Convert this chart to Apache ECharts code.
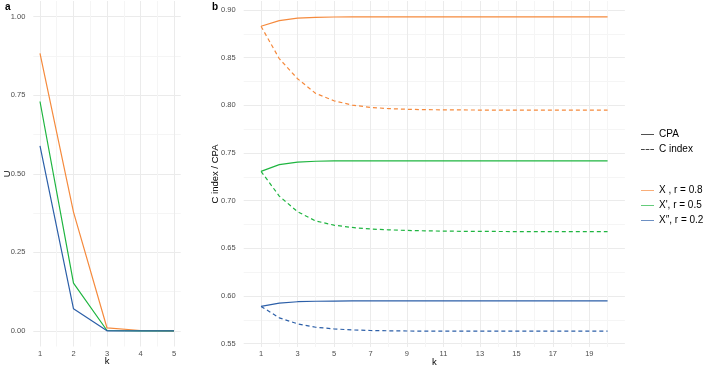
<!DOCTYPE html>
<html>
<head>
<meta charset="utf-8">
<script src="https://cdn.jsdelivr.net/npm/echarts@6/dist/echarts.min.js"></script>
<style>
  html, body { margin: 0; padding: 0; background: #fff; }
  #chart { width: 706px; height: 368px; }
</style>
</head>
<body>
<div id="chart"></div>
<script>
// panel a: U against k
const kA = [1, 2, 3, 4, 5];
const uX0 = [0.883, 0.378, 0.009, 0.001, 0.000];
const uX1 = [0.730, 0.152, 0.001, 0.000, 0.000];
const uX2 = [0.589, 0.070, 0.000, 0.000, 0.000];

// panel b: CPA (solid) and C index (dashed) against k
const kB = [1, 2, 3, 4, 5, 6, 7, 8, 9, 10, 11, 12, 13, 14, 15, 16, 17, 18, 19, 20];
const cpaX0 = [0.883, 0.8889, 0.8915, 0.8924, 0.8927, 0.8928, 0.8928, 0.8928, 0.8928, 0.8928,
               0.8928, 0.8928, 0.8928, 0.8928, 0.8928, 0.8928, 0.8928, 0.8928, 0.8928, 0.8928];
const cIdxX0 = [0.883, 0.849, 0.828, 0.8125, 0.8048, 0.8003, 0.7979, 0.7966, 0.7959, 0.7955,
                0.7953, 0.7952, 0.7951, 0.7951, 0.795, 0.795, 0.795, 0.795, 0.795, 0.795];
const cpaX1 = [0.7308, 0.7378, 0.7405, 0.7414, 0.7417, 0.7418, 0.7418, 0.7418, 0.7418, 0.7418,
               0.7418, 0.7418, 0.7418, 0.7418, 0.7418, 0.7418, 0.7418, 0.7418, 0.7418, 0.7418];
const cIdxX1 = [0.7308, 0.7048, 0.6885, 0.6787, 0.6743, 0.6719, 0.6703, 0.6694, 0.6688, 0.6684,
                0.6681, 0.6679, 0.6678, 0.6677, 0.6676, 0.6676, 0.6675, 0.6675, 0.6675, 0.6675];
const cpaX2 = [0.5891, 0.5926, 0.594, 0.5945, 0.5947, 0.5948, 0.5948, 0.5948, 0.5948, 0.5948,
               0.5948, 0.5948, 0.5948, 0.5948, 0.5948, 0.5948, 0.5948, 0.5948, 0.5948, 0.5948];
const cIdxX2 = [0.5891, 0.5771, 0.5708, 0.5672, 0.5655, 0.5644, 0.5638, 0.5635, 0.5633, 0.5632,
                0.5632, 0.5631, 0.5631, 0.5631, 0.5631, 0.5631, 0.5631, 0.5631, 0.5631, 0.5631];

const groupNames = ['X , r = 0.8', 'X\', r = 0.5', 'X\u2033, r = 0.2'];
const colors = ['#f58a3d', '#1fb540', '#2c5fa8'];

// tick / grid values
const aXLabels = [1, 2, 3, 4, 5];
const aXGrid = [1, 1.5, 2, 2.5, 3, 3.5, 4, 4.5, 5];
const aYLabels = [0, 0.25, 0.5, 0.75, 1];
const aYGrid = [0, 0.125, 0.25, 0.375, 0.5, 0.625, 0.75, 0.875, 1];
const bXLabels = [1, 3, 5, 7, 9, 11, 13, 15, 17, 19];
const bXGrid = kB;
const bYLabels = [0.55, 0.6, 0.65, 0.7, 0.75, 0.8, 0.85, 0.9];
const bYGrid = [0.55, 0.575, 0.6, 0.625, 0.65, 0.675, 0.7, 0.725, 0.75, 0.775, 0.8, 0.825, 0.85, 0.875, 0.9];

const FONT = '"Liberation Sans", Arial, sans-serif';
const gridColors = ['#ebebeb', '#f5f5f5'];
const SOLID_ICON = 'path://M0,0H14V1H0Z';
const DASH_ICON = 'path://M0,0H4V1H0Z M5,0H9V1H5Z M10,0H14V1H10Z';

function pairs(xs, ys) { return xs.map((x, i) => [x, ys[i]]); }

function valueAxis(min, max, labels, grid, fmt, extra) {
  return Object.assign({
    type: 'value', min: min, max: max,
    axisLine: { show: false },
    axisTick: { show: false, customValues: grid },
    axisLabel: { customValues: labels, color: '#4d4d4d', fontSize: 7.5, fontFamily: FONT, formatter: fmt },
    splitLine: { show: true, lineStyle: { color: gridColors, width: 1 } },
    nameMoveOverlap: false,
    nameTextStyle: { color: '#000', fontSize: 9.5, fontFamily: FONT }
  }, extra);
}

const chart = echarts.init(document.getElementById('chart'), null, { renderer: 'canvas' });

const series = [];
[uX0, uX1, uX2].forEach((d, i) => {
  series.push({ name: groupNames[i], type: 'line', xAxisIndex: 0, yAxisIndex: 0, data: pairs(kA, d),
    symbol: 'none', lineStyle: { color: colors[i], width: 1.2 }, itemStyle: { color: colors[i] }, silent: true });
});
[[cpaX0, cIdxX0], [cpaX1, cIdxX1], [cpaX2, cIdxX2]].forEach((p, i) => {
  series.push({ name: groupNames[i], type: 'line', xAxisIndex: 1, yAxisIndex: 1, data: pairs(kB, p[0]),
    symbol: 'none', lineStyle: { color: colors[i], width: 1.2 }, itemStyle: { color: colors[i] }, silent: true });
  series.push({ name: groupNames[i] + ' C', type: 'line', xAxisIndex: 1, yAxisIndex: 1, data: pairs(kB, p[1]),
    symbol: 'none', lineStyle: { color: colors[i], width: 1.2, type: [4, 3] }, itemStyle: { color: colors[i] }, silent: true });
});
// legend keys for line type
series.push({ name: 'CPA', type: 'line', xAxisIndex: 1, yAxisIndex: 1, data: [], symbol: 'none',
  lineStyle: { color: '#444', width: 1.2 }, itemStyle: { color: '#444' } });
series.push({ name: 'C index', type: 'line', xAxisIndex: 1, yAxisIndex: 1, data: [], symbol: 'none',
  lineStyle: { color: '#444', width: 1.2, type: [3, 2] }, itemStyle: { color: '#444' } });

const legendText = { fontSize: 10, color: '#000', fontFamily: FONT, lineHeight: 15 };
const option = {
  animation: false,
  backgroundColor: '#fff',
  textStyle: { fontFamily: FONT },
  title: [
    { text: 'a', left: 0, top: -3, textStyle: { fontSize: 10, fontWeight: 'bold', color: '#000', fontFamily: FONT } },
    { text: 'b', left: 207, top: -3, textStyle: { fontSize: 10, fontWeight: 'bold', color: '#000', fontFamily: FONT } }
  ],
  grid: [
    { left: 33.3, top: 1, width: 147.4, height: 345.5, outerBoundsMode: 'none', containLabel: false },
    { left: 243.7, top: 1, width: 381.2, height: 346, outerBoundsMode: 'none', containLabel: false }
  ],
  xAxis: [
    valueAxis(0.8, 5.2, aXLabels, aXGrid, v => String(v),
      { gridIndex: 0, name: 'k', nameLocation: 'middle', nameGap: 10, axisLabel: { customValues: aXLabels, color: '#4d4d4d', fontSize: 7.5, fontFamily: FONT, margin: 3 } }),
    valueAxis(0.05, 20.95, bXLabels, bXGrid, v => String(v),
      { gridIndex: 1, name: 'k', nameLocation: 'middle', nameGap: 10, axisLabel: { customValues: bXLabels, color: '#4d4d4d', fontSize: 7.5, fontFamily: FONT, margin: 3 } })
  ],
  yAxis: [
    valueAxis(-0.05, 1.05, aYLabels, aYGrid, v => v.toFixed(2),
      { gridIndex: 0, name: 'U', nameLocation: 'middle', nameGap: 21 }),
    valueAxis(0.5465, 0.9095, bYLabels, bYGrid, v => v.toFixed(2),
      { gridIndex: 1, name: 'C index / CPA', nameLocation: 'middle', nameGap: 23.5 })
  ],
  legend: [
    { data: [{ name: 'CPA', icon: SOLID_ICON }, { name: 'C index', icon: DASH_ICON }],
      orient: 'vertical', left: 641, top: 127, itemWidth: 13, itemHeight: 1.5, itemGap: 0,
      selectedMode: false, textStyle: legendText, padding: 0 },
    { data: groupNames.map(n => ({ name: n, icon: SOLID_ICON })),
      orient: 'vertical', left: 641, top: 183, itemWidth: 13, itemHeight: 1.5, itemGap: 0,
      selectedMode: false, textStyle: legendText, padding: 0, itemStyle: { opacity: 0.75 } }
  ],
  series: series
};
chart.setOption(option);
</script>
</body>
</html>
